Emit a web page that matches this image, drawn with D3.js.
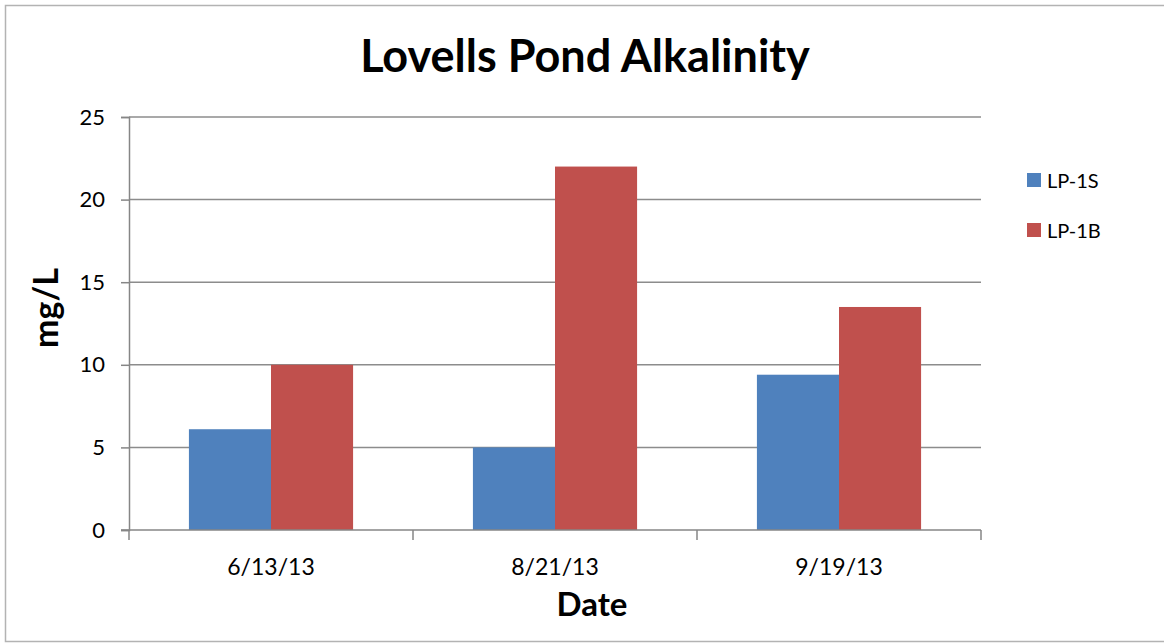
<!DOCTYPE html>
<html>
<head>
<meta charset="utf-8">
<script src="https://cdn.jsdelivr.net/npm/d3@7"></script>
<style>
  body { margin: 0; background: #fff; }
  svg { display: block; font-family: Lato, "Open Sans", sans-serif; }
</style>
</head>
<body>
<svg id="chart" width="1164" height="643"></svg>
<script>
// chart data
const dates = ["6/13/13", "8/21/13", "9/19/13"];
const seriesNames = ["LP-1S", "LP-1B"];
const lp1s = [6.1, 5.0, 9.4];
const lp1b = [10.0, 22.0, 13.5];
const yTicks = [0, 5, 10, 15, 20, 25];
const colors = ["#4F81BD", "#C0504D"];

const values = [lp1s, lp1b];

const svg = d3.select("#chart");
const plotLeft = 129, plotRight = 981, plotTop = 117, plotBottom = 530;

// outer frame
svg.append("rect")
  .attr("x", 5.5).attr("y", 5.5)
  .attr("width", 1180).attr("height", 636)
  .attr("fill", "none")
  .attr("stroke", "#b3b3b3")
  .attr("stroke-width", 1.5);

const x0 = d3.scaleBand()
  .domain(dates)
  .range([plotLeft, plotRight])
  .padding(0);

const x1 = d3.scaleBand()
  .domain(seriesNames)
  .range([0, x0.bandwidth()])
  .paddingInner(0)
  .paddingOuter(0.73);

const y = d3.scaleLinear()
  .domain([0, 25])
  .range([plotBottom, plotTop]);

// gridlines
svg.append("g")
  .selectAll("line")
  .data(yTicks.filter(d => d > 0))
  .enter()
  .append("line")
  .attr("x1", plotLeft).attr("x2", plotRight)
  .attr("y1", d => y(d)).attr("y2", d => y(d))
  .attr("stroke", "#8c8c8c")
  .attr("stroke-width", 1.5);

// bars
dates.forEach((dt, i) => {
  seriesNames.forEach((s, j) => {
    svg.append("rect")
      .attr("x", x0(dt) + x1(s))
      .attr("y", y(values[j][i]))
      .attr("width", x1.bandwidth())
      .attr("height", y(0) - y(values[j][i]))
      .attr("fill", colors[j]);
  });
});

// y axis
const yAxis = svg.append("g")
  .attr("transform", `translate(${plotLeft},0)`)
  .call(d3.axisLeft(y).tickValues(yTicks).tickSize(8).tickPadding(16));
yAxis.selectAll("line, path").attr("stroke", "#868686").attr("stroke-width", 1.5);
yAxis.selectAll("text")
  .attr("font-size", 22)
  .attr("font-family", "Lato, sans-serif")
  .attr("fill", "#000");

// x axis with ticks at band edges
const xAxis = svg.append("g")
  .attr("transform", `translate(0,${plotBottom})`);
xAxis.append("line")
  .attr("x1", plotLeft - 8).attr("x2", plotRight)
  .attr("stroke", "#868686").attr("stroke-width", 1.5);
xAxis.selectAll(".tk")
  .data(dates.map(d => x0(d)).concat([plotRight]))
  .enter()
  .append("line")
  .attr("x1", d => d).attr("x2", d => d)
  .attr("y1", 0).attr("y2", 10)
  .attr("stroke", "#868686").attr("stroke-width", 1.5);
xAxis.selectAll(".lbl")
  .data(dates)
  .enter()
  .append("text")
  .attr("x", d => x0(d) + x0.bandwidth() / 2)
  .attr("y", 45)
  .attr("text-anchor", "middle")
  .attr("font-size", 23)
  .attr("fill", "#000")
  .text(d => d);

// titles
svg.append("text")
  .attr("x", 585).attr("y", 72)
  .attr("text-anchor", "middle")
  .attr("font-size", 45)
  .attr("font-weight", "bold")
  .text("Lovells Pond Alkalinity");

svg.append("text")
  .attr("x", 592).attr("y", 616)
  .attr("text-anchor", "middle")
  .attr("font-size", 33)
  .attr("font-weight", "bold")
  .text("Date");

svg.append("text")
  .attr("transform", "translate(58,308) rotate(-90)")
  .attr("text-anchor", "middle")
  .attr("font-size", 34)
  .attr("font-weight", "bold")
  .text("mg/L");

// legend
const legend = svg.append("g");
seriesNames.forEach((s, j) => {
  legend.append("rect")
    .attr("x", 1027).attr("y", 173 + j * 50)
    .attr("width", 14).attr("height", 14)
    .attr("fill", colors[j]);
  legend.append("text")
    .attr("x", 1047).attr("y", 188 + j * 50)
    .attr("font-size", 20)
    .text(s);
});
</script>
</body>
</html>
